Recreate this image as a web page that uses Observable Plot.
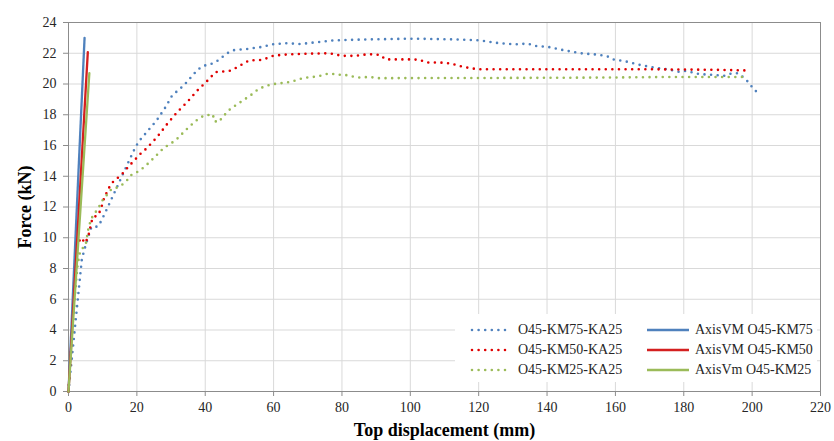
<!DOCTYPE html>
<html>
<head>
<meta charset="utf-8">
<script src="https://cdn.jsdelivr.net/npm/d3@7"></script>
<script src="https://cdn.jsdelivr.net/npm/@observablehq/plot@0.6"></script>
<style>
  html, body { margin: 0; padding: 0; background: #fff; }
  #wrap { position: relative; width: 834px; height: 441px; font-family: "Liberation Serif", "Times New Roman", serif; }
  #wrap svg text { font-family: "Liberation Serif", "Times New Roman", serif; fill: #262626; }
  #wrap svg g[aria-label="x-axis label"] text,
  #wrap svg g[aria-label="y-axis label"] text { font-weight: bold; font-size: 18px; fill: #000; }
  #legend { position: absolute; left: 455px; top: 314px; width: 362px; height: 68px; background: #fff; font-size: 14px; color: #262626; }
  .item { position: absolute; display: flex; align-items: center; height: 20px; white-space: nowrap; }
  .item svg { display: block; margin-right: 6px; }
</style>
</head>
<body>
<div id="wrap"></div>
<script>
const km75X = [0, 3.9, 4.5, 5.0, 6.7, 8.6, 9.6, 11.3, 14.2, 17.7, 19.6, 20.7, 23.0, 25.7, 28.4, 30.3, 33.7, 36.7, 38.1, 39.8, 41.7, 43.5, 46.4, 48.4, 52.3, 56.2, 60.1, 64.0, 67.9, 71.8, 77.8, 87.7, 101.2, 112.6, 120.5, 124.5, 130.5, 134.4, 136.4, 140.4, 144.4, 149.8, 155.3, 157.8, 159.3, 163.2, 167.2, 171.2, 175.2, 178.6, 180.6, 182.6, 184.6, 188.6, 192.1, 194.1, 195.8, 197.5, 198.8, 200.0, 201.3];
const km75Y = [0, 8.6, 9.1, 9.5, 10.7, 10.73, 11.1, 11.9, 13.3, 15.0, 15.9, 16.3, 16.9, 17.6, 18.5, 19.25, 19.9, 20.66, 20.98, 21.2, 21.3, 21.5, 22.0, 22.2, 22.28, 22.4, 22.6, 22.65, 22.6, 22.7, 22.84, 22.9, 22.95, 22.9, 22.84, 22.69, 22.58, 22.63, 22.48, 22.41, 22.22, 22.0, 21.9, 21.78, 21.6, 21.46, 21.24, 21.07, 20.96, 20.79, 20.85, 20.75, 20.64, 20.6, 20.53, 20.7, 20.7, 20.42, 20.14, 19.8, 19.49];

const km50X = [0, 2.7, 3.7, 4.9, 5.7, 6.2, 6.6, 7.2, 8.6, 9.4, 10.5, 11.5, 12.3, 13.75, 15.0, 16.5, 17.6, 19.1, 20.5, 21.8, 23.0, 25.9, 28.9, 31.8, 34.7, 37.7, 40.4, 43.0, 45.9, 47.7, 49.4, 52.8, 56.7, 60.1, 64.0, 67.9, 76.2, 77.8, 79.8, 83.8, 87.7, 91.2, 92.7, 100.7, 102.7, 104.7, 108.6, 112.1, 114.1, 117.5, 120.0, 169.0, 191.0, 198.5];
const km50Y = [0, 9.6, 10.0, 9.65, 10.04, 10.47, 10.95, 11.34, 11.45, 11.82, 12.64, 13.07, 13.46, 13.79, 14.0, 14.33, 14.66, 14.98, 15.35, 15.6, 15.85, 16.54, 17.41, 18.17, 18.82, 19.58, 20.16, 20.77, 20.83, 20.88, 21.1, 21.53, 21.57, 21.85, 21.92, 21.96, 22.0, 21.94, 21.83, 21.83, 21.94, 21.89, 21.6, 21.6, 21.57, 21.4, 21.4, 21.33, 21.18, 21.03, 20.96, 20.96, 20.92, 20.88];

const km25X = [0, 0.6, 1.4, 2.0, 2.7, 3.5, 5.0, 5.7, 6.6, 7.9, 8.9, 9.9, 11.1, 12.6, 14.0, 15.4, 17.0, 18.1, 19.6, 22.2, 25.0, 27.9, 31.3, 34.2, 37.2, 39.6, 42.3, 42.5, 44.0, 45.0, 47.4, 50.3, 53.2, 55.7, 58.1, 60.1, 64.0, 65.9, 68.9, 72.8, 75.7, 76.8, 78.7, 80.8, 82.8, 84.8, 88.2, 90.2, 137.4, 157.2, 177.2, 198.0];
const km25Y = [0, 2.45, 4.6, 6.57, 8.3, 9.2, 9.5, 10.47, 11.23, 11.66, 12.0, 12.42, 12.75, 13.18, 13.25, 13.4, 13.7, 14.05, 14.2, 14.6, 15.2, 15.85, 16.33, 16.98, 17.6, 17.95, 18.02, 17.6, 17.52, 17.84, 18.39, 18.82, 19.25, 19.69, 19.9, 20.0, 20.1, 20.2, 20.4, 20.49, 20.66, 20.68, 20.6, 20.6, 20.5, 20.42, 20.46, 20.38, 20.4, 20.42, 20.46, 20.46];

// AxisVM linear models (start, end)
const vm75X = [0, 4.7], vm75Y = [0, 23.0];
const vm50X = [0, 5.65], vm50Y = [0, 22.07];
const vm25X = [0, 6.1], vm25Y = [0, 20.7];

const seriesNames = ["O45-KM75-KA25", "O45-KM50-KA25", "O45-KM25-KA25", "AxisVM O45-KM75", "AxisVM O45-KM50", "AxisVm O45-KM25"];
const seriesColors = ["#4f81bd", "#e00000", "#9bbb59", "#4f81bd", "#d42020", "#9bbb59"];
const xTicks = [0, 20, 40, 60, 80, 100, 120, 140, 160, 180, 200, 220];
const yTicks = [0, 2, 4, 6, 8, 10, 12, 14, 16, 18, 20, 22, 24];

const toRows = (xs, ys) => xs.map((x, i) => ({x, y: ys[i]}));
const exp = [toRows(km75X, km75Y), toRows(km50X, km50Y), toRows(km25X, km25Y)];
const vm = [toRows(vm75X, vm75Y), toRows(vm50X, vm50Y), toRows(vm25X, vm25Y)];

const marks = [
  Plot.gridX(xTicks, {stroke: "#d9d9d9", strokeOpacity: 1}),
  Plot.gridY(yTicks, {stroke: "#d9d9d9", strokeOpacity: 1}),
  Plot.frame({stroke: "#8c8c8c"}),
  Plot.axisX({ticks: xTicks, tickSize: 5, tickPadding: 6, stroke: "#8c8c8c", fontSize: 14, label: "Top displacement (mm)", labelAnchor: "center", labelArrow: false, labelOffset: 44}),
  Plot.axisY({ticks: yTicks, tickSize: 5, tickPadding: 7, stroke: "#8c8c8c", fontSize: 14, label: "Force (kN)", labelAnchor: "center", labelArrow: false, labelOffset: 50}),
];
exp.forEach((d, i) => marks.push(Plot.line(d, {x: "x", y: "y", stroke: seriesColors[i], strokeWidth: 2.6, strokeDasharray: "0 6.6", strokeLinecap: "round"})));
vm.forEach((d, i) => marks.push(Plot.line(d, {x: "x", y: "y", stroke: seriesColors[i + 3], strokeWidth: 2.3})));

const chart = Plot.plot({
  width: 834,
  height: 441,
  marginLeft: 68,
  marginRight: 14,
  marginTop: 22,
  marginBottom: 50,
  style: {fontFamily: "'Liberation Serif', 'Times New Roman', serif", fontSize: "14px", color: "#262626", background: "#fff"},
  x: {domain: [0, 220]},
  y: {domain: [0, 24]},
  marks
});
const wrap = document.getElementById("wrap");
wrap.appendChild(chart);

// Legend overlay
const legend = document.createElement("div");
legend.id = "legend";
const positions = [
  [15, 6], [15, 26], [15, 46],
  [192, 6], [192, 26], [192, 46]
];
seriesNames.forEach((name, i) => {
  const item = document.createElement("div");
  item.className = "item";
  item.style.left = positions[i][0] + "px";
  item.style.top = positions[i][1] + "px";
  const dotted = i < 3;
  const w = 42;
  const line = dotted
    ? `<line x1="2" y1="10" x2="${w - 4}" y2="10" stroke="${seriesColors[i]}" stroke-width="2.6" stroke-dasharray="0 6.6" stroke-linecap="round"/>`
    : `<line x1="0" y1="10" x2="${w}" y2="10" stroke="${seriesColors[i]}" stroke-width="2.6"/>`;
  item.innerHTML = `<svg width="${w}" height="20">${line}</svg><span>${name}</span>`;
  legend.appendChild(item);
});
wrap.appendChild(legend);
</script>
</body>
</html>
